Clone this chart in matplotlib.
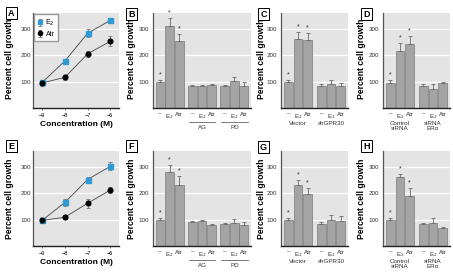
import matplotlib
matplotlib.use("Agg")
import matplotlib.pyplot as plt
from matplotlib.patches import Rectangle

plt.rcParams['font.family'] = ['Liberation Sans', 'DejaVu Sans']

# ---- data ----
conc = [-9, -8, -7, -6]
conc_labels = ['\u22129', '\u22128', '\u22127', '\u22126']

a_e2 = [97, 178, 283, 332]
a_e2_err = [8, 8, 15, 10]
a_atr = [95, 116, 205, 253]
a_atr_err = [10, 10, 10, 18]

e_e2 = [97, 165, 252, 302]
e_e2_err = [8, 12, 10, 15]
e_atr = [97, 109, 162, 212]
e_atr_err = [8, 8, 18, 10]

treatments = ['\u2013', 'E$_2$', 'Atr']

b_vals = [97, 310, 255, 84, 84, 87, 84, 102, 84]
b_err = [10, 32, 24, 5, 3, 3, 5, 16, 14]
c_vals = [97, 262, 256, 85, 92, 84]
c_err = [10, 25, 28, 5, 14, 12]
d_vals = [95, 217, 244, 82, 72, 95]
d_err = [12, 28, 28, 8, 18, 3]
f_vals = [97, 280, 231, 91, 93, 80, 82, 89, 80]
f_err = [10, 28, 35, 5, 5, 5, 7, 12, 12]
g_vals = [97, 230, 198, 82, 99, 93]
g_err = [10, 20, 23, 8, 19, 19]
h_vals = [97, 261, 188, 84, 88, 68]
h_err = [10, 12, 30, 5, 18, 5]

inhib_groups = ['', 'AG', 'PD']
gpr_groups = ['Vector', 'shGPR30']
sirna_groups = ['Control\nsiRNA', 'siRNA\nER\u03b1']

BG = '#e4e4e4'
BAR = '#a4a4a4'
BLUE = '#2f9ad4'

W, H = 453, 276
fig = plt.figure(figsize=(W / 100, H / 100), dpi=100)


def px_axes(l, t, r, b):
    return fig.add_axes([l / W, 1 - b / H, (r - l) / W, (b - t) / H])


def style(ax, pad):
    ax.set_facecolor(BG)
    for s in ['top', 'right']:
        ax.spines[s].set_visible(False)
    ax.spines['left'].set_color('#555555')
    ax.spines['left'].set_linewidth(0.9)
    ax.spines['bottom'].set_color('#222222')
    ax.spines['bottom'].set_linewidth(1.0)
    ax.set_ylim(0, 360)
    ax.set_yticks([100, 200, 300])
    ax.tick_params(axis='y', labelsize=4.5, length=0, pad=pad, labelcolor='#333333')
    ax.grid(axis='y', color='white', linewidth=0.9)
    ax.set_axisbelow(True)


def panel_box(letter, x, y):
    w, h = 11, 12
    fig.patches.append(Rectangle(((x + 1.2) / W, 1 - (y + h + 1.2) / H), w / W, h / H,
                                 transform=fig.transFigure, fc='black', ec='none'))
    fig.patches.append(Rectangle((x / W, 1 - (y + h) / H), w / W, h / H,
                                 transform=fig.transFigure, fc='white', ec='black', lw=0.7))
    fig.text((x + w / 2) / W, 1 - (y + h / 2 + 0.3) / H, letter, ha='center', va='center',
             fontsize=6.5, fontweight='bold')


def ylab(x, y):
    fig.text(x / W, 1 - y / H, 'Percent cell growth', rotation=90, ha='center', va='center',
             fontsize=6.2, fontweight='bold')


def line_panel(ax, e2, e2err, atr, atrerr, legend):
    style(ax, 1.5)
    ax.plot(conc, e2, color='#444444', lw=0.6, zorder=2)
    ax.plot(conc, atr, color='#444444', lw=0.6, zorder=2)
    ax.errorbar(conc, e2, yerr=e2err, fmt='s', color=BLUE, ms=3.6, mec=BLUE,
                ecolor='#777777', elinewidth=0.6, capsize=1.2, capthick=0.6, zorder=3, label='E$_2$')
    ax.errorbar(conc, atr, yerr=atrerr, fmt='o', color='black', ms=3.4,
                ecolor='#777777', elinewidth=0.6, capsize=1.2, capthick=0.6, zorder=3, label='Atr')
    ax.set_xlim(-9.4, -5.62)
    ax.set_xticks(conc)
    ax.set_xticklabels(conc_labels)
    ax.tick_params(axis='x', labelsize=4, length=1.5, width=0.5, pad=2, color='#555555')
    ax.set_xlabel('Concentration (M)', fontsize=6, fontweight='bold', labelpad=2)
    if legend:
        ax.legend(loc='upper left', fontsize=5, frameon=True, fancybox=False, edgecolor='#999999',
                  framealpha=1, handlelength=0.6, handletextpad=0.5, borderpad=0.5,
                  labelspacing=0.4, borderaxespad=0.2, markerscale=0.9)


def bar_panel(ax, vals, errs, groups, underline):
    style(ax, 3)
    pitch = 3.4
    xs = []
    for g in range(len(groups)):
        for k in range(3):
            xs.append(g * pitch + k)
    ax.bar(xs, vals, width=0.92, color=BAR, edgecolor='#7a7a7a', linewidth=0.5, zorder=2)
    ax.errorbar(xs, vals, yerr=[[0] * len(errs), errs], fmt='none', ecolor='#6a6a6a',
                elinewidth=0.6, capsize=1.3, capthick=0.6, zorder=3)
    for i in range(3):
        ax.text(xs[i], vals[i] + errs[i] + 6, '*', ha='center', va='bottom', fontsize=5,
                color='#333333')
    ax.set_xlim(-0.75, (len(groups) - 1) * pitch + 2.75)
    ax.set_xticks([])
    tr = ax.get_xaxis_transform()
    for i, x in enumerate(xs):
        ax.text(x, -0.04, treatments[i % 3], transform=tr, ha='center', va='top', fontsize=4.5,
                color='#333333')
    for g, name in enumerate(groups):
        cx = g * pitch + 1
        if not name:
            continue
        if underline:
            ax.plot([cx - 1.4, cx + 1.4], [-0.145, -0.145], transform=tr, color='#444444',
                    lw=0.5, clip_on=False)
            ax.text(cx, -0.175, name, transform=tr, ha='center', va='top', fontsize=4.5,
                    color='#333333')
        else:
            ax.text(cx, -0.135, name, transform=tr, ha='center', va='top', fontsize=4.5,
                    color='#333333', linespacing=1.0)


# top row
axA = px_axes(33, 13, 119, 108)
line_panel(axA, a_e2, a_e2_err, a_atr, a_atr_err, True)
axB = px_axes(153, 13, 251, 108)
bar_panel(axB, b_vals, b_err, inhib_groups, True)
axC = px_axes(281, 13, 348, 108)
bar_panel(axC, c_vals, c_err, gpr_groups, False)
axD = px_axes(383, 13, 450, 108)
bar_panel(axD, d_vals, d_err, sirna_groups, False)

# bottom row
axE = px_axes(33, 151, 119, 246)
line_panel(axE, e_e2, e_e2_err, e_atr, e_atr_err, False)
axF = px_axes(153, 151, 251, 246)
bar_panel(axF, f_vals, f_err, inhib_groups, True)
axG = px_axes(281, 151, 348, 246)
bar_panel(axG, g_vals, g_err, gpr_groups, False)
axH = px_axes(383, 151, 450, 246)
bar_panel(axH, h_vals, h_err, sirna_groups, False)

for letter, x, y in [('A', 6, 7), ('B', 126, 8), ('C', 258, 8), ('D', 361, 8),
                     ('E', 6, 140), ('F', 126, 140), ('G', 258, 141), ('H', 361, 140)]:
    panel_box(letter, x, y)

for x in [10, 131, 261, 361]:
    ylab(x, 59)
    ylab(x, 199)

fig.savefig('out.png', dpi=100)
